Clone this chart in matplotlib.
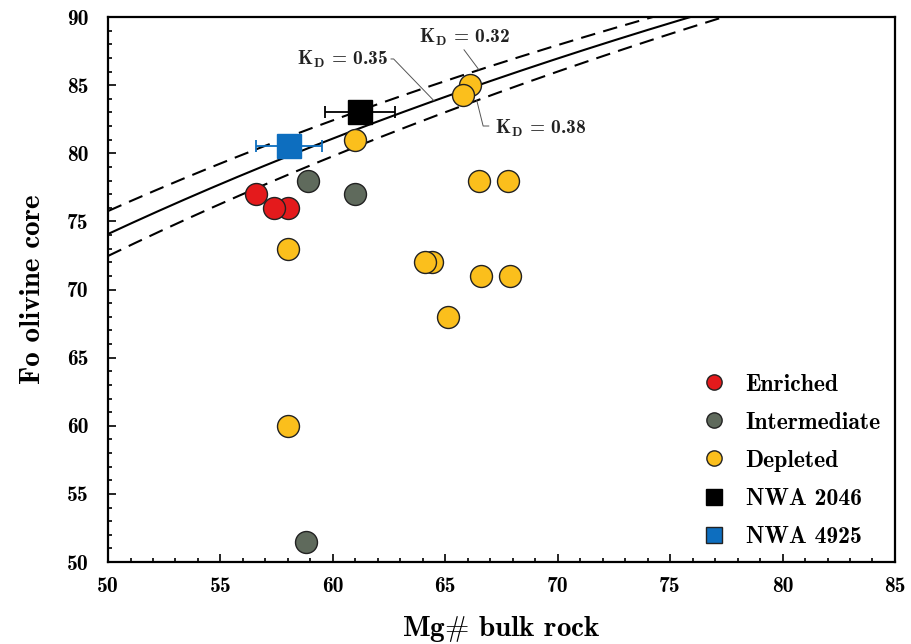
"""Fo of olivine cores vs bulk-rock Mg#, with olivine-melt equilibrium curves."""
import numpy as np
import matplotlib
matplotlib.use("Agg")
import matplotlib.pyplot as plt

plt.rcParams["font.family"] = "cmb10"
plt.rcParams["mathtext.fontset"] = "cm"
plt.rcParams["axes.unicode_minus"] = False

# --- data ---------------------------------------------------------------
enriched_mg = [56.6, 57.4, 58.0]
enriched_fo = [77.0, 76.0, 76.0]

intermediate_mg = [58.9, 61.0, 58.8]
intermediate_fo = [78.0, 77.0, 51.5]

depleted_mg = [58.0, 61.0, 66.1, 65.8, 66.5, 67.8, 64.4, 64.1, 66.6, 67.9, 65.1, 58.0]
depleted_fo = [73.0, 81.0, 85.0, 84.3, 78.0, 78.0, 72.0, 72.0, 71.0, 71.0, 68.0, 60.0]

nwa2046_mg, nwa2046_fo, nwa2046_err = 61.2, 83.0, 1.55
nwa4925_mg, nwa4925_fo, nwa4925_err = 58.06, 80.55, 1.47

kd_values = [0.32, 0.35, 0.38]
kd_styles = ["--", "-", "--"]

# --- colours ------------------------------------------------------------
C_RED = "#e41a1c"
C_GREY = "#5f6a5c"
C_YEL = "#fbbf1c"
C_BLUE = "#0d6ebf"


def fo_equilibrium(mg, kd):
    """Fo of olivine in equilibrium with a melt of given Mg# (Fe-Mg exchange KD)."""
    return 100.0 / (1.0 + kd * (100.0 - mg) / mg)


fig = plt.figure(figsize=(9.11, 6.44), dpi=100)
ax = fig.add_axes([0.1186, 0.1273, 0.8638, 0.8463])

mg = np.linspace(50, 85, 300)
for kd, ls in zip(kd_values, kd_styles):
    ax.plot(mg, fo_equilibrium(mg, kd), color="black", lw=1.5,
            ls=ls, dashes=(7, 4) if ls == "--" else (None, None), zorder=2)

pt = dict(s=250, edgecolors="#222222", linewidths=1.0, zorder=4)
ax.scatter(enriched_mg[::-1], enriched_fo[::-1], c=C_RED, **pt)
ax.scatter(intermediate_mg, intermediate_fo, c=C_GREY, **pt)
ax.scatter(depleted_mg, depleted_fo, c=C_YEL, **pt)

ax.errorbar(nwa2046_mg, nwa2046_fo, xerr=nwa2046_err, fmt="s", ms=17,
            mfc="black", mec="black", ecolor="black", elinewidth=1.3,
            capsize=4, capthick=1.3, zorder=5)
ax.errorbar(nwa4925_mg, nwa4925_fo, xerr=nwa4925_err, fmt="s", ms=17,
            mfc=C_BLUE, mec=C_BLUE, ecolor=C_BLUE, elinewidth=1.3,
            capsize=4, capthick=1.3, zorder=5)

# KD labels with thin grey leaders
lead = dict(arrowstyle="-", color="#555555", lw=0.7, shrinkA=0, shrinkB=0)
kd_fs = 14
ax.annotate("", xy=(64.5, fo_equilibrium(64.5, 0.35)), xytext=(62.58, 86.92),
            arrowprops=dict(connectionstyle="angle,angleA=0,angleB=-46,rad=0", **lead))
ax.text(62.45, 86.92, r"K$_\mathbf{D}$ = 0.35", fontsize=kd_fs, ha="right",
        va="center", color="#222222")
ax.annotate("", xy=(66.5, fo_equilibrium(66.5, 0.32)), xytext=(65.83, 87.6),
            arrowprops=lead)
ax.text(65.87, 88.5, r"K$_\mathbf{D}$ = 0.32", fontsize=kd_fs, ha="center",
        va="center", color="#222222")
ax.annotate("", xy=(66.4, fo_equilibrium(66.4, 0.38)), xytext=(66.94, 82.0),
            arrowprops=dict(connectionstyle="angle,angleA=0,angleB=-76,rad=0", **lead))
ax.text(67.2, 81.85, r"K$_\mathbf{D}$ = 0.38", fontsize=kd_fs, ha="left",
        va="center", color="#222222")

ax.set_xlim(50, 85)
ax.set_ylim(50, 90)
ax.set_xticks(np.arange(50, 86, 5))
ax.set_yticks(np.arange(50, 91, 5))
ax.set_xticks(np.arange(50, 86, 1), minor=True)
ax.set_yticks(np.arange(50, 91, 1), minor=True)
ax.tick_params(which="both", direction="in", top=False, right=False, width=1.2)
ax.tick_params(which="major", length=6, labelsize=15.5)
ax.tick_params(axis="x", which="major", pad=11)
ax.tick_params(axis="y", which="major", pad=14)
ax.tick_params(which="minor", length=3)
for s in ax.spines.values():
    s.set_linewidth(1.6)

ax.set_xlabel(r"Mg$\mathbf{\#}$ bulk rock", fontsize=21, labelpad=13)
ax.set_ylabel("Fo olivine core", fontsize=21, labelpad=15)

h = [
    plt.Line2D([], [], ls="", marker="o", ms=11, mfc=C_RED, mec="#222222"),
    plt.Line2D([], [], ls="", marker="o", ms=11, mfc=C_GREY, mec="#222222"),
    plt.Line2D([], [], ls="", marker="o", ms=11, mfc=C_YEL, mec="#222222"),
    plt.Line2D([], [], ls="", marker="s", ms=11, mfc="black", mec="black"),
    plt.Line2D([], [], ls="", marker="s", ms=11, mfc=C_BLUE, mec="#222222"),
]
ax.legend(h, ["Enriched", "Intermediate", "Depleted", "NWA 2046", "NWA 4925"],
          loc="lower right", frameon=False, fontsize=17, handletextpad=0.35,
          labelspacing=0.68, borderaxespad=0.2)

fig.savefig("out.png", dpi=100)
plt.close(fig)
